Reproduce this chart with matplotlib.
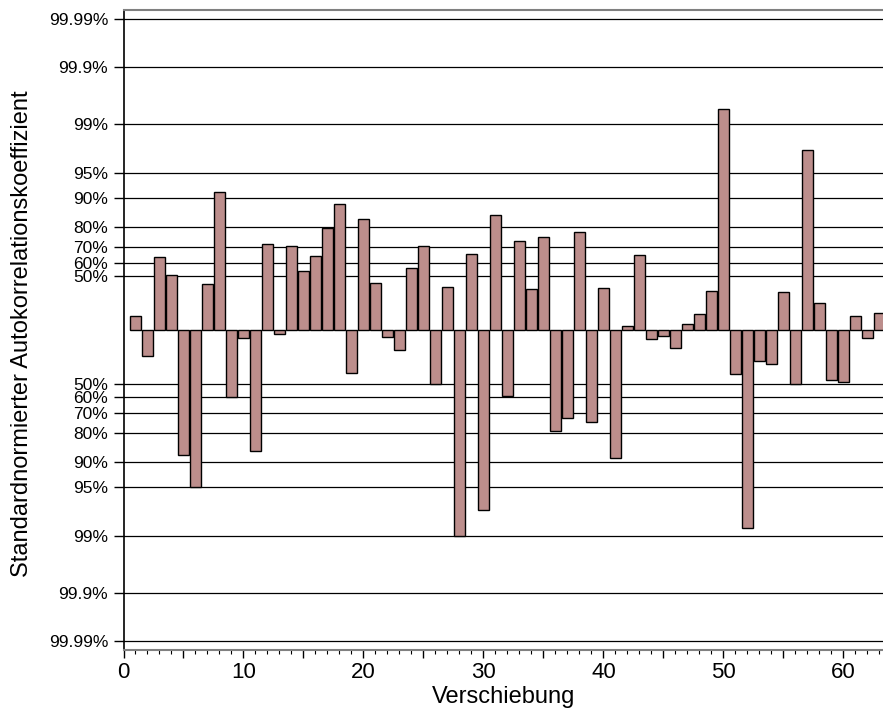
from statistics import NormalDist
import numpy as np
import matplotlib.pyplot as plt
from matplotlib.ticker import MultipleLocator, FuncFormatter

plt.rcParams['font.family'] = ['Liberation Sans', 'DejaVu Sans']

# standardised autocorrelation coefficient per lag
lags = np.arange(1, 64)
acf_z = [0.17, -0.33, 0.91, 0.69, -1.56, -1.96, 0.57, 1.72, -0.84, -0.10,
         -1.51, 1.08, -0.05, 1.05, 0.74, 0.93, 1.28, 1.58, -0.54, 1.39,
         0.59, -0.09, -0.25, 0.78, 1.05, -0.67, 0.54, -2.58, 0.95, -2.25,
         1.44, -0.83, 1.11, 0.51, 1.16, -1.26, -1.10, 1.23, -1.15, 0.52,
         -1.60, 0.05, 0.94, -0.11, -0.07, -0.23, 0.07, 0.20, 0.49, 2.76,
         -0.55, -2.48, -0.39, -0.42, 0.47, -0.68, 2.25, 0.34, -0.62, -0.65,
         0.17, -0.10, 0.21]

# two-sided confidence levels shown on the y axis
levels = [50, 60, 70, 80, 90, 95, 99, 99.9, 99.99]
level_labels = ['50%', '60%', '70%', '80%', '90%', '95%', '99%', '99.9%', '99.99%']

nd = NormalDist()
z_levels = [nd.inv_cdf(0.5 + p / 200.0) for p in levels]
yticks = [-z for z in z_levels] + z_levels
ylabels = level_labels + level_labels

fig = plt.figure(figsize=(8.83, 7.13), dpi=100)
ax = fig.add_axes([123.5 / 883, 63 / 713, 1 - 123.5 / 883, 640 / 713])

for z in yticks:
    ax.axhline(z, color='black', lw=0.9, zorder=1)

ax.bar(lags, acf_z, width=0.85, color='#bc8e8c', edgecolor='black',
       linewidth=1.0, zorder=3)

ax.set_xlim(0, 63.3)
ax.set_ylim(-4, 4)

ax.set_yticks(yticks)
ax.set_yticklabels(ylabels)
ax.tick_params(axis='y', length=7, width=1, pad=4, labelsize=12.5)

ax.xaxis.set_major_locator(MultipleLocator(5))
ax.xaxis.set_minor_locator(MultipleLocator(1))
ax.xaxis.set_major_formatter(FuncFormatter(
    lambda v, pos: f'{int(v)}' if int(round(v)) % 10 == 0 else ''))
ax.tick_params(axis='x', which='major', length=6, width=1, pad=3, labelsize=16)
ax.tick_params(axis='x', which='minor', length=3, width=0.8)

ax.spines['right'].set_visible(False)
ax.spines['top'].set_color('#808080')
ax.spines['top'].set_linewidth(1.5)
ax.spines['bottom'].set_color('#808080')
ax.spines['bottom'].set_linewidth(1.5)
ax.spines['left'].set_linewidth(1.2)

ax.set_xlabel('Verschiebung', fontsize=17)
ax.set_ylabel('Standardnormierter Autokorrelationskoeffizient', fontsize=17)
ax.yaxis.set_label_coords(-0.119, 0.495)
ax.xaxis.set_label_coords(0.5, -0.057)

fig.savefig('out.png', dpi=100)
